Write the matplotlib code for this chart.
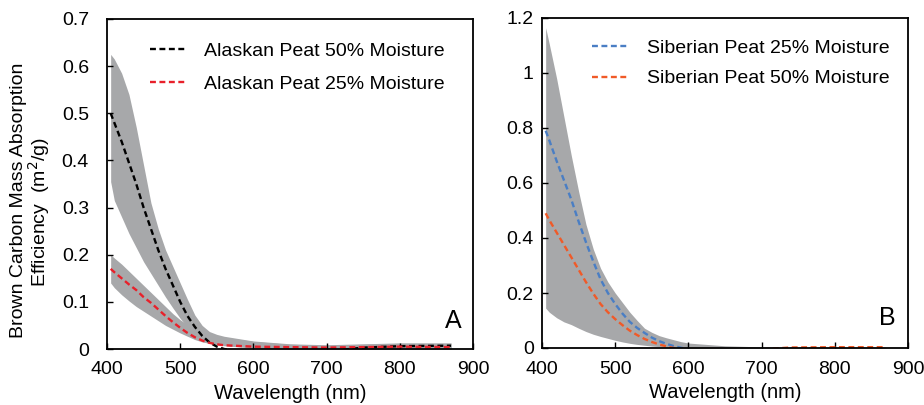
import matplotlib
matplotlib.use("Agg")
import matplotlib.pyplot as plt
from matplotlib.ticker import FuncFormatter, MultipleLocator

plt.rcParams['font.family'] = ['Liberation Sans', 'DejaVu Sans']

# panel A - Alaskan peat
wl_a = [405, 410, 420, 430, 440, 450, 460, 470, 480, 490, 500, 510, 520, 530, 540, 550, 560,
        600, 650, 700, 750, 800, 870]
ak50 = [0.50, 0.48, 0.44, 0.395, 0.35, 0.30, 0.255, 0.21, 0.17, 0.135, 0.10, 0.07, 0.047, 0.028, 0.014, 0.005, 0.0,
        -0.01, -0.01, -0.005, 0.003, 0.006, 0.007]
ak50_hi = [0.625, 0.615, 0.585, 0.54, 0.47, 0.39, 0.31, 0.255, 0.21, 0.175, 0.14, 0.105, 0.072, 0.05, 0.037, 0.031, 0.027,
           0.017, 0.011, 0.009, 0.011, 0.013, 0.013]
ak50_lo = [0.355, 0.315, 0.28, 0.245, 0.215, 0.185, 0.16, 0.135, 0.11, 0.087, 0.065, 0.047, 0.035, 0.028, 0.02, 0.013, 0.008,
           0.003, 0.0, 0.0, 0.0, 0.0, 0.0]
ak25 = [0.17, 0.163, 0.15, 0.137, 0.125, 0.11, 0.098, 0.084, 0.07, 0.057, 0.045, 0.034, 0.025, 0.018, 0.013, 0.01, 0.008,
        0.005, 0.004, 0.003, 0.004, 0.005, 0.004]
ak25_hi = [0.20, 0.193, 0.18, 0.165, 0.15, 0.135, 0.12, 0.105, 0.09, 0.075, 0.062, 0.052, 0.043, 0.036, 0.031, 0.028, 0.025,
           0.016, 0.01, 0.008, 0.01, 0.012, 0.012]
ak25_lo = [0.14, 0.13, 0.115, 0.102, 0.09, 0.08, 0.07, 0.06, 0.05, 0.042, 0.034, 0.027, 0.02, 0.015, 0.012, 0.009, 0.007,
           0.002, 0.0, 0.0, 0.0, 0.0, 0.0]

# panel B - Siberian peat
wl_b = [405, 410, 420, 430, 440, 450, 460, 470, 480, 490, 500, 510, 520, 530, 540, 550, 560, 570, 580, 590, 600,
        650, 700, 740, 800, 870]
sb25 = [0.79, 0.755, 0.68, 0.61, 0.54, 0.46, 0.385, 0.315, 0.25, 0.20, 0.16, 0.125, 0.095, 0.073, 0.055, 0.038, 0.025,
        0.015, 0.007, 0.001, -0.005, -0.01, -0.01, -0.001, -0.005, -0.005]
sb50 = [0.49, 0.465, 0.42, 0.375, 0.33, 0.285, 0.24, 0.198, 0.16, 0.13, 0.105, 0.083, 0.063, 0.047, 0.033, 0.022, 0.013,
        0.006, 0.0, -0.005, -0.01, -0.01, -0.005, 0.002, 0.003, 0.003]
sb_hi = [1.165, 1.105, 0.98, 0.84, 0.70, 0.57, 0.45, 0.36, 0.29, 0.24, 0.20, 0.165, 0.13, 0.10, 0.072, 0.057, 0.045,
         0.037, 0.03, 0.023, 0.018, 0.008, 0.004, 0.003, 0.003, 0.003]
sb_lo = [0.145, 0.13, 0.11, 0.095, 0.085, 0.072, 0.06, 0.05, 0.042, 0.035, 0.028, 0.022, 0.017, 0.013, 0.01, 0.007, 0.005,
         0.003, 0.002, 0.001, 0.0, 0.0, 0.0, 0.0, 0.0, 0.0]

band = '#a7a8aa'
dash = (0, (2.5, 1.5))

fig = plt.figure(figsize=(9.24, 4.05), dpi=100)
axA = fig.add_axes([107/924, 56/405, 366/924, 330/405])
axB = fig.add_axes([542/924, 57/405, 366/924, 330/405])

axA.fill_between(wl_a, ak50_lo, ak50_hi, color=band, lw=0)
axA.fill_between(wl_a, ak25_lo, ak25_hi, color=band, lw=0)
axA.plot(wl_a, ak50, color='black', ls=dash, lw=1.7, label='Alaskan Peat 50% Moisture')
axA.plot(wl_a, ak25, color='#e8202a', ls=dash, lw=1.7, label='Alaskan Peat 25% Moisture')

axB.fill_between(wl_b, sb_lo, sb_hi, color=band, lw=0)
axB.plot(wl_b, sb25, color='#4a7ec4', ls=dash, lw=1.7, label='Siberian Peat 25% Moisture')
axB.plot(wl_b, sb50, color='#f05a28', ls=dash, lw=1.7, label='Siberian Peat 50% Moisture')

fmt = FuncFormatter(lambda v, p: '%g' % round(v, 3))
for ax, ytop, ystep, ypad in [(axA, 0.7, 0.1, 13), (axB, 1.2, 0.2, 6)]:
    ax.set_xlim(400, 900)
    ax.set_ylim(0, ytop)
    ax.xaxis.set_major_locator(MultipleLocator(100))
    ax.yaxis.set_major_locator(MultipleLocator(ystep))
    ax.yaxis.set_major_formatter(fmt)
    ax.tick_params(direction='in', length=4, width=1, labelsize=14, color='black')
    ax.tick_params(axis='y', pad=ypad)
    ax.tick_params(axis='x', pad=9)
    for s in ax.spines.values():
        s.set_linewidth(1.3)
    ax.set_xlabel('Wavelength (nm)', fontsize=14.5, labelpad=4)

axA.legend(loc='upper left', bbox_to_anchor=(0.117, 0.93), frameon=False, fontsize=14,
           borderpad=0, borderaxespad=0, handlelength=1.8, handletextpad=1.0, labelspacing=0.8)
axB.legend(loc='upper left', bbox_to_anchor=(0.137, 0.935), frameon=False, fontsize=14,
           borderpad=0, borderaxespad=0, handlelength=1.8, handletextpad=1.0, labelspacing=0.65)

axA.text(0.97, 0.05, 'A', transform=axA.transAxes, fontsize=18, ha='right', va='bottom')
axB.text(0.965, 0.055, 'B', transform=axB.transAxes, fontsize=18, ha='right', va='bottom')

fig.text(19/924, 1 - 200/405, 'Brown Carbon Mass Absorption', rotation=90, fontsize=14,
         ha='center', va='center')
fig.text(39/924, 1 - 212/405, 'Efficiency  (m$^2$/g)', rotation=90, fontsize=14,
         ha='center', va='center')

fig.savefig('out.png', dpi=100)
